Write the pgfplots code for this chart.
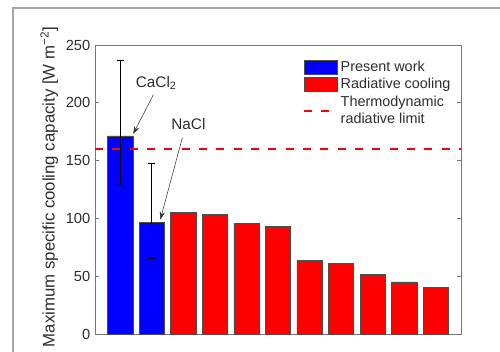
\documentclass[border=0pt]{standalone}
\usepackage{pgfplots}
\pgfplotsset{compat=1.18}
\usepackage{fontspec}
\setmainfont{Liberation Sans}
\usetikzlibrary{arrows.meta}
\definecolor{txt}{RGB}{45,45,45}
\definecolor{axc}{RGB}{120,120,120}
\pgfplotsset{
  barleg/.style={legend image code/.code={\draw[##1] (0pt,-5.25pt) rectangle (24.75pt,5.25pt);}},
  lineleg/.style={legend image code/.code={\draw[##1] (0pt,0pt) -- (24.75pt,0pt);}},
}
\begin{document}
\begin{tikzpicture}
\path[use as bounding box, clip] (-71.25pt,-12.75pt) rectangle (303.75pt,250.5pt);
\draw[color=black!35, line width=0.9pt] (-61.5pt,-40pt) rectangle (340pt,244.5pt);
\begin{axis}[
  at={(0,0)}, anchor=south west,
  scale only axis, width=274.5pt, height=216.75pt,
  xmin=0.2, xmax=11.8, ymin=0, ymax=250,
  xtick=\empty, ytick={0,50,100,150,200,250},
  tick align=inside, major tick length=3pt,
  axis line style={axc, line width=0.6pt},
  tick style={axc, line width=0.5pt},
  ticklabel style={font=\fontsize{11}{13}\selectfont, text=txt},
  /pgf/number format/assume math mode=true,
  ylabel={Maximum specific cooling capacity [W m\textsuperscript{−2}]},
  ylabel style={font=\fontsize{12.6}{15}\selectfont, text=txt, at={(axis description cs:-0.125,0.509)}, anchor=center},
  ybar, bar shift=0pt, bar width=0.8,
  legend cell align=left,
  legend style={draw=none, fill=none, at={(0.99,0.965)}, anchor=north east,
    font=\fontsize{10.8}{12.5}\selectfont, text=txt, cells={align=left}, row sep=0pt},
]
\addplot[fill=blue, draw=black!70, line width=0.4pt, barleg,
  error bars/.cd, y dir=both, y explicit, error mark=-,
  error bar style={black, line width=0.7pt},
  error mark options={rotate=90, black, line width=0.7pt, mark size=2.6pt}]
  coordinates {(1,171.3) += (0,65.5) -= (0,43) (2,96.3) += (0,51.3) -= (0,30.8)};
\addlegendentry{Present work}
\addplot[fill=red, draw=black!70, line width=0.4pt, barleg]
  coordinates {(3,105) (4,103.2) (5,95.8) (6,92.8) (7,64) (8,60.8) (9,51.6) (10,45) (11,40.4)};
\addlegendentry{Radiative cooling}
\addplot[sharp plot, red, line width=1.5pt, dash pattern=on 6pt off 7pt, lineleg]
  coordinates {(0.2,160) (11.8,160)};
\addlegendentry{Thermodynamic\\radiative limit}
\node[font=\fontsize{11.5}{13}\selectfont, text=txt] at (axis cs:2.14,217) {CaCl\textsubscript{2}};
\draw[-{Stealth[length=6pt,width=4pt]}, black!80, line width=0.4pt] (axis cs:2.05,207) -- (axis cs:1.41,173);
\node[font=\fontsize{11.5}{13}\selectfont, text=txt] at (axis cs:3.16,181.7) {NaCl};
\draw[-{Stealth[length=6pt,width=4pt]}, black!80, line width=0.4pt] (axis cs:2.97,170) -- (axis cs:2.27,99);
\end{axis}
\end{tikzpicture}
\end{document}
